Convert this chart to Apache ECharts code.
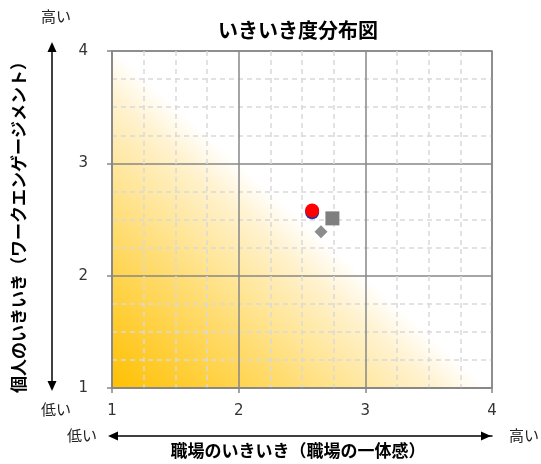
<!DOCTYPE html>
<html>
<head>
<meta charset="utf-8">
<script src="https://cdn.jsdelivr.net/npm/echarts@6/dist/echarts.min.js"></script>
<style>
  html, body { margin: 0; padding: 0; background: #ffffff; }
  #chart { width: 541px; height: 464px; }
</style>
</head>
<body>
<div id="chart"></div>
<script>
// Scale range shared by both axes (score 1 = low, 4 = high)
const axisMin = 1;
const axisMax = 4;
const majorStep = 1;

// Plotted groups: workplace vitality (x) vs. personal vitality (y)
const groupNames  = ['比較', '自部署', '全社', '業界'];
const groupX      = [2.58, 2.58, 2.74, 2.65];
const groupY      = [2.565, 2.58, 2.51, 2.39];
const groupSymbol = ['circle', 'circle', 'rect', 'diamond'];
const groupColor  = ['#2233AA', '#FF0000', '#7F7F7F', '#8C8C8C'];
const groupSize   = [14, 14, 14, 13];

const FONT = '"DejaVu Sans", "Noto Sans CJK JP", sans-serif';
const JP = '"Noto Sans CJK JP", sans-serif';

const chart = echarts.init(document.getElementById('chart'), null, { renderer: 'canvas' });

const axisGray = '#878787';
const minorGray = '#D9D9D9';

function mainAxis(nameText, nameGap, namePadding) {
  return {
    type: 'value',
    min: axisMin,
    max: axisMax,
    interval: majorStep,
    name: nameText,
    nameLocation: 'middle',
    nameGap: nameGap,
    nameTextStyle: { fontFamily: JP, fontWeight: 'bold', fontSize: 17, color: '#000', padding: namePadding },
    axisLine: { show: true, lineStyle: { color: axisGray, width: 1.5 } },
    axisTick: { show: true, length: 5, lineStyle: { color: axisGray, width: 1.5 } },
    axisLabel: { fontFamily: FONT, fontSize: 15, color: '#333' },
    splitLine: { show: true, lineStyle: { color: axisGray, width: 1.5 } },
    minorTick: { show: false, splitNumber: 4 },
    minorSplitLine: { show: true, lineStyle: { color: minorGray, width: 1.5, type: [5, 4] } }
  };
}

// Secondary axes only carry the double-headed arrows
function arrowAxis(position, offset, symbolOffset) {
  return {
    type: 'value',
    position: position,
    offset: offset,
    min: axisMin,
    max: axisMax,
    interval: majorStep,
    axisLine: {
      show: true,
      symbol: ['triangle', 'triangle'],
      symbolSize: [9, 10],
      symbolOffset: symbolOffset,
      lineStyle: { color: '#000', width: 1.5 }
    },
    axisTick: { show: false },
    axisLabel: { show: false },
    splitLine: { show: false }
  };
}

const xMain = mainAxis('職場のいきいき（職場の一体感）', 54, [0, 8, 0, 0]);
xMain.axisLabel.margin = 16;
const yMain = mainAxis('個人のいきいき（ワークエンゲージメント）', 85, [0, 7, 0, 0]);
yMain.axisLabel.margin = 24;

const series = groupNames.map((name, i) => ({
  name: name,
  type: 'scatter',
  xAxisIndex: 0,
  yAxisIndex: 0,
  symbol: groupSymbol[i],
  symbolSize: groupSize[i],
  itemStyle: { color: groupColor[i], opacity: 1 },
  data: [[groupX[i], groupY[i]]],
  z: 3 + i
}));

const sideLabel = (text, x, y) => ({
  type: 'text',
  left: x,
  top: y,
  style: { text: text, fontFamily: JP, fontSize: 15, fill: '#222' }
});

chart.setOption({
  animation: false,
  backgroundColor: '#ffffff',
  title: {
    text: 'いきいき度分布図',
    left: 213,
    top: 15,
    textStyle: { fontFamily: JP, fontWeight: 'bold', fontSize: 20, color: '#000' }
  },
  grid: {
    left: 112,
    top: 51,
    width: 380,
    height: 340,
    show: true,
    borderColor: axisGray,
    borderWidth: 1.5,
    // gold fading to white toward the top-left / bottom-right diagonal
    backgroundColor: new echarts.graphic.LinearGradient(0, 1, 0.444, 0.445, [
      { offset: 0, color: '#FFC000' },
      { offset: 0.35, color: '#FFD44F' },
      { offset: 0.65, color: '#FFE69A' },
      { offset: 0.86, color: '#FFF2CF' },
      { offset: 1, color: '#FFFFFF' }
    ])
  },
  xAxis: [xMain, arrowAxis('bottom', 48, [1, -6])],
  yAxis: [yMain, arrowAxis('left', 60, [2, 4])],
  series: series,
  graphic: [
    sideLabel('高い', 41, 9),
    sideLabel('低い', 41, 402),
    sideLabel('低い', 67, 428),
    sideLabel('高い', 509, 428)
  ]
});
</script>
</body>
</html>
